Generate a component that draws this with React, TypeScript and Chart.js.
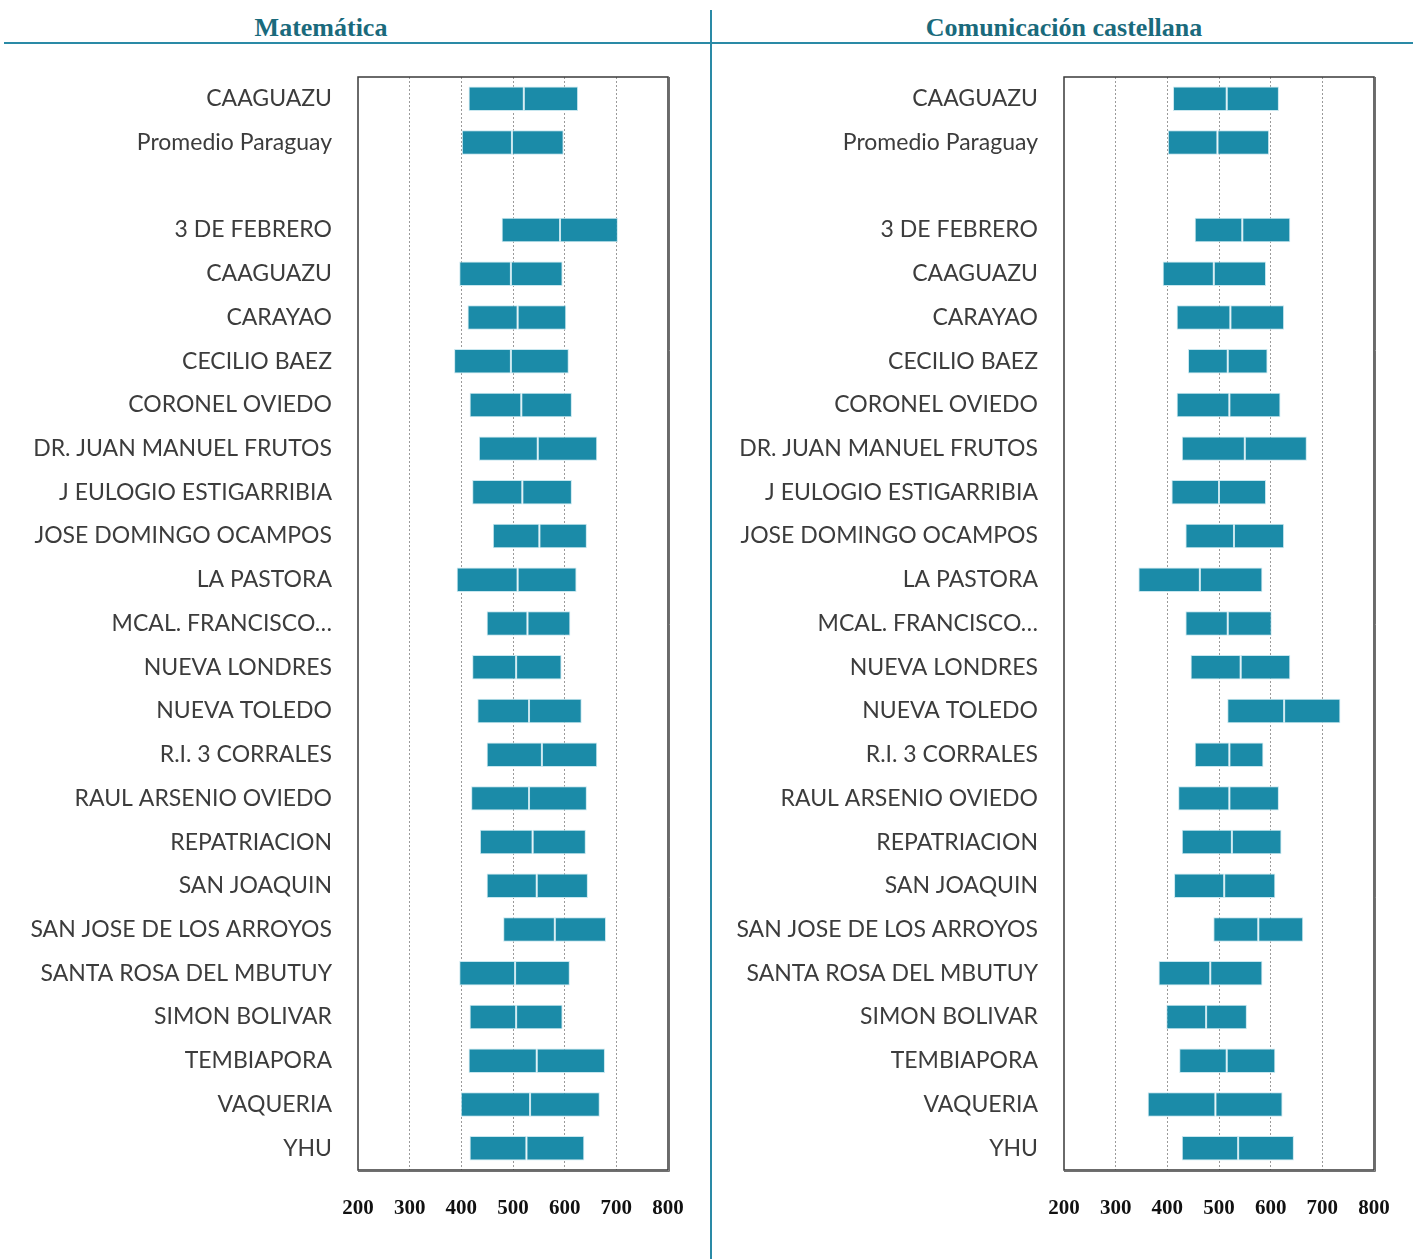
import React, { useEffect, useRef } from "react";
import { Chart, registerables } from "chart.js";

Chart.register(...registerables);

const categories = [
  "CAAGUAZU", "Promedio Paraguay", "", "3 DE FEBRERO", "CAAGUAZU", "CARAYAO", "CECILIO BAEZ",
  "CORONEL OVIEDO", "DR. JUAN MANUEL FRUTOS", "J EULOGIO ESTIGARRIBIA", "JOSE DOMINGO OCAMPOS",
  "LA PASTORA", "MCAL. FRANCISCO…", "NUEVA LONDRES", "NUEVA TOLEDO", "R.I. 3 CORRALES",
  "RAUL ARSENIO OVIEDO", "REPATRIACION", "SAN JOAQUIN", "SAN JOSE DE LOS ARROYOS",
  "SANTA ROSA DEL MBUTUY", "SIMON BOLIVAR", "TEMBIAPORA", "VAQUERIA", "YHU",
];

const matLow = [414, 401, null, 478, 396, 412, 386, 416, 434, 421, 461, 391, 449, 421, 431, 449, 419, 436, 449, 481, 396, 416, 414, 399, 416];
const matMid = [521, 498, null, 591, 496, 509, 496, 516, 548, 518, 551, 509, 528, 506, 531, 556, 531, 538, 546, 581, 504, 506, 546, 533, 526];
const matHigh = [626, 598, null, 703, 596, 603, 608, 614, 663, 614, 643, 623, 611, 594, 633, 663, 643, 641, 645, 680, 610, 596, 678, 668, 638];

const comLow = [411, 401, null, 453, 391, 418, 440, 418, 428, 408, 435, 344, 435, 445, 516, 453, 421, 428, 413, 489, 383, 398, 423, 362, 428];
const comMid = [515, 497, null, 545, 490, 522, 517, 520, 550, 500, 529, 463, 517, 542, 626, 520, 520, 525, 510, 576, 483, 475, 515, 493, 537];
const comHigh = [616, 597, null, 638, 591, 626, 594, 619, 670, 591, 626, 584, 602, 638, 735, 586, 616, 621, 609, 663, 584, 554, 609, 623, 645];

const xTicks = [200, 300, 400, 500, 600, 700, 800];

const BAR = "#1b8ba8";
const BAR_EDGE = "#c8e7ef";
const TEAL_TEXT = "#1a6a7c";
const TEAL_LINE = "#2a8aa6";

const framePlugin = {
  id: "frame",
  beforeDatasetsDraw(chart: any) {
    const { ctx, chartArea } = chart;
    ctx.save();
    ctx.strokeStyle = "#3a3a3a";
    ctx.lineWidth = 1.5;
    ctx.strokeRect(chartArea.left, chartArea.top, chartArea.right - chartArea.left, chartArea.bottom - chartArea.top);
    ctx.strokeStyle = "#707070";
    ctx.lineWidth = 1;
    ctx.beginPath();
    ctx.moveTo(chartArea.right + 1.5, chartArea.top);
    ctx.lineTo(chartArea.right + 1.5, chartArea.bottom + 1.5);
    ctx.lineTo(chartArea.left, chartArea.bottom + 1.5);
    ctx.stroke();
    ctx.restore();
  },
};

function Panel(props: { low: (number | null)[]; mid: (number | null)[]; high: (number | null)[]; yWidth: number; rightPad: number; width: number }) {
  const ref = useRef<HTMLCanvasElement>(null);
  useEffect(() => {
    if (!ref.current) return;
    const lowSeg = props.low.map((l, i) => (l == null ? null : [l, props.mid[i] as number]));
    const highSeg = props.mid.map((m, i) => (m == null ? null : [m, props.high[i] as number]));
    const chart = new Chart(ref.current, {
      type: "bar",
      data: {
        labels: categories,
        datasets: [
          { data: lowSeg as any, backgroundColor: BAR, borderColor: BAR_EDGE, borderWidth: 1, borderSkipped: false, grouped: false, barPercentage: 0.56, categoryPercentage: 1 },
          { data: highSeg as any, backgroundColor: BAR, borderColor: BAR_EDGE, borderWidth: 1, borderSkipped: false, grouped: false, barPercentage: 0.56, categoryPercentage: 1 },
        ],
      },
      options: {
        indexAxis: "y",
        responsive: false,
        animation: false,
        devicePixelRatio: 1,
        layout: { padding: { top: 77, right: props.rightPad, left: 0, bottom: 0 } },
        plugins: { legend: { display: false }, tooltip: { enabled: false } },
        scales: {
          x: {
            type: "linear",
            min: 200,
            max: 800,
            afterBuildTicks: (scale: any) => {
              scale.ticks = xTicks.map((v) => ({ value: v }));
            },
            afterFit: (scale: any) => {
              scale.height = 1259 - 1170;
            },
            ticks: {
              autoSkip: false,
              maxRotation: 0,
              padding: 0,
              color: "#111",
              font: { family: "'Liberation Serif', 'Times New Roman', serif", size: 21, weight: "bold" },
            },
            grid: {
              drawTicks: true,
              tickLength: 26,
              tickColor: "rgba(0,0,0,0)",
              lineWidth: 1,
              color: (ctx: any) => (ctx.tick && (ctx.tick.value === 200 || ctx.tick.value === 800) ? "rgba(0,0,0,0)" : "#9a9a9a"),
            },
            border: { display: false, dash: [2, 2] },
          },
          y: {
            type: "category",
            afterFit: (scale: any) => {
              scale.width = props.yWidth;
            },
            ticks: {
              autoSkip: false,
              padding: 26,
              color: "#3c3c3c",
              font: { family: "Lato, 'Noto Sans', sans-serif", size: 23 },
            },
            grid: { display: false, drawTicks: false },
            border: { display: false },
          },
        },
      },
      plugins: [framePlugin],
    });
    return () => chart.destroy();
  }, []);
  return <canvas ref={ref} width={props.width} height={1259} style={{ display: "block", width: props.width, height: 1259 }} />;
}

export default function App() {
  const titleStyle: React.CSSProperties = {
    position: "absolute",
    top: 13,
    fontFamily: "'Liberation Serif', 'Times New Roman', serif",
    fontWeight: "bold",
    fontSize: 26,
    color: TEAL_TEXT,
    whiteSpace: "nowrap",
    transform: "translateX(-50%)",
    lineHeight: "30px",
  };
  return (
    <div style={{ position: "absolute", left: 0, top: 0, width: 1413, height: 1259, background: "#fff", overflow: "hidden" }}>
      <div style={{ ...titleStyle, left: 321 }}>Matemática</div>
      <div style={{ ...titleStyle, left: 1064 }}>Comunicación castellana</div>
      <div style={{ position: "absolute", left: 4, top: 42, width: 1409, height: 2, background: TEAL_LINE }} />
      <div style={{ position: "absolute", left: 710, top: 10, width: 2, height: 1249, background: TEAL_LINE }} />
      <div style={{ position: "absolute", left: 0, top: 0 }}>
        <Panel low={matLow} mid={matMid} high={matHigh} yWidth={358} rightPad={706 - 668} width={706} />
      </div>
      <div style={{ position: "absolute", left: 712, top: 0 }}>
        <Panel low={comLow} mid={comMid} high={comHigh} yWidth={1064 - 712} rightPad={1413 - 1374} width={1413 - 712} />
      </div>
    </div>
  );
}
